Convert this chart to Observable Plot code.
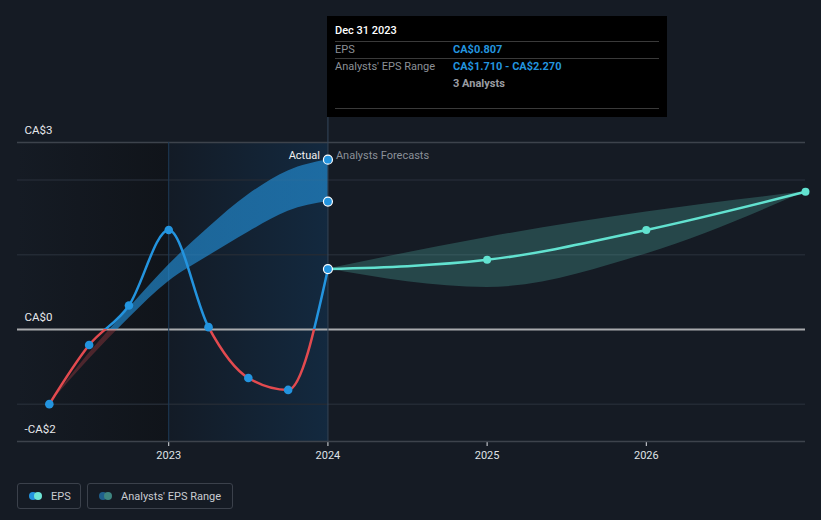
<!DOCTYPE html>
<html>
<head>
<meta charset="utf-8">
<script src="https://cdn.jsdelivr.net/npm/d3@7"></script>
<script src="https://cdn.jsdelivr.net/npm/@observablehq/plot@0.6"></script>
<style>
  html, body { margin: 0; padding: 0; background: #151b24; }
  body { font-family: Roboto, "Noto Sans", sans-serif; }
  #wrap { position: relative; width: 821px; height: 520px; overflow: hidden; }
  #tip { position: absolute; left: 327px; top: 16px; width: 340px; height: 101px; background: #000; color: #fff; font-size: 11px; }
  #tip .t { position: absolute; }
  #tip .sep { position: absolute; left: 8px; width: 324px; height: 1px; background: #3a3a3a; }
  #legend { position: absolute; left: 17px; top: 483px; display: flex; gap: 6px; }
  .lg { box-sizing: border-box; height: 26px; border: 1px solid #3b414b; border-radius: 3px; display: flex; align-items: center; padding: 0 0 0 11px; color: #c9ccd1; font-size: 11px; white-space: nowrap; }
  .sw { position: relative; width: 13px; height: 8px; margin-right: 9px; flex: none; }
  .sw i { position: absolute; top: 0; width: 8px; height: 8px; border-radius: 50%; }
</style>
</head>
<body>
<div id="wrap">
  <div id="chart"></div>
  <div id="tip">
    <div class="t" style="left:8px;top:8px;font-weight:500;">Dec 31 2023</div>
    <div class="sep" style="top:25px"></div>
    <div class="t" style="left:8px;top:27px;color:#8c9097;">EPS</div>
    <div class="t" style="left:126px;top:27px;color:#2394df;font-weight:700;">CA$0.807</div>
    <div class="sep" style="top:42px"></div>
    <div class="t" style="left:8px;top:44px;color:#8c9097;">Analysts' EPS Range</div>
    <div class="t" style="left:126px;top:44px;color:#2394df;font-weight:700;">CA$1.710 - CA$2.270</div>
    <div class="t" style="left:126px;top:61px;color:#9a9da2;font-weight:700;">3 Analysts</div>
    <div class="sep" style="top:92px"></div>
  </div>
  <div id="legend">
    <div class="lg" style="width:64px"><span class="sw"><i style="left:0;background:#2394df"></i><i style="left:5px;background:#6ee6d6"></i></span>EPS</div>
    <div class="lg" style="width:146px"><span class="sw"><i style="left:0;background:#1f5f8c"></i><i style="left:5px;background:#3e8580"></i></span>Analysts' EPS Range</div>
  </div>
</div>
<script>
// ---- data ----
const epsDates  = [2022.25, 2022.5, 2022.75, 2023.0, 2023.25, 2023.5, 2023.75, 2024.0];
const epsValues = [-1.0, -0.21, 0.32, 1.33, 0.03, -0.65, -0.81, 0.807];

const pastBandDates = [2022.25, 2022.5, 2022.75, 2023.0, 2023.25, 2023.5, 2023.75, 2024.0];
const pastBandLow   = [-1.0, -0.40, 0.15, 0.64, 0.98, 1.30, 1.58, 1.71];
const pastBandHigh  = [-1.0, -0.32, 0.28, 0.86, 1.36, 1.80, 2.12, 2.27];

const forecastDates  = [2024, 2025, 2026, 2027];
const forecastValues = [0.807, 0.93, 1.33, 1.84];
const forecastLow    = [0.807, 0.56, 1.01, 1.84];
const forecastHigh   = [0.807, 1.23, 1.57, 1.84];

const xTicks = [2023, 2024, 2025, 2026];
const yLabels = [{v: 2.5, label: "CA$3"}, {v: 0, label: "CA$0"}, {v: -1.5, label: "-CA$2"}];
const xDomain = [2022.05, 2027];
const yDomain = [-1.5, 2.5];
const pastYearStart = 2023, nowDate = 2024;
const markerTop = 2.84;

// ---- tables ----
const eps = epsDates.map((d, i) => ({x: d, y: epsValues[i]}));
const pastBand = pastBandDates.map((d, i) => ({x: d, lo: pastBandLow[i], hi: pastBandHigh[i]}));
const fc = forecastDates.map((d, i) => ({x: d, y: forecastValues[i], lo: forecastLow[i], hi: forecastHigh[i]}));
const nowPoints = [
  {x: nowDate, y: epsValues[epsValues.length - 1]},
  {x: nowDate, y: pastBandLow[pastBandLow.length - 1]},
  {x: nowDate, y: pastBandHigh[pastBandHigh.length - 1]}
];

const BLUE = "#2394df", RED = "#e34a4f", TEAL = "#62e2d0";

function defsMark(index, scales, values, dimensions) {
  const top = dimensions.marginTop, bottom = dimensions.height - dimensions.marginBottom;
  const z = (scales.y(0) - top) / (bottom - top);
  const g = d3.create("svg:g");
  const defs = g.append("defs");
  const lin = (id, stops, attrs) => {
    const lg = defs.append("linearGradient").attr("id", id);
    Object.entries(attrs).forEach(([k, v]) => lg.attr(k, v));
    stops.forEach(([o, c, op]) => lg.append("stop").attr("offset", o).attr("stop-color", c).attr("stop-opacity", op ?? 1));
  };
  const vert = {gradientUnits: "userSpaceOnUse", x1: 0, x2: 0, y1: top, y2: bottom};
  lin("epsGrad", [[0, BLUE], [z, BLUE], [z, RED], [1, RED]], vert);
  lin("bandGrad", [[0, BLUE], [z, BLUE], [z, RED, 0.45], [1, RED, 0.45]], vert);
  lin("leftShade", [[0, "#151b24"], [1, "#10141a"]], {x1: 0, x2: 1, y1: 0, y2: 0});
  lin("midShade", [[0, "#131b26"], [1, "#13293f"]], {x1: 0, x2: 1, y1: 0, y2: 0});
  return g.node();
}

const chart = Plot.plot({
  width: 821,
  height: 470,
  marginTop: 142,
  marginBottom: 29,
  marginLeft: 17,
  marginRight: 16,
  style: {background: "transparent", color: "#dfe2e6", fontFamily: "Roboto, sans-serif", fontSize: "11px", overflow: "visible"},
  x: {domain: xDomain, ticks: xTicks, tickFormat: d => String(d), tickSize: 5, tickPadding: 5, label: null},
  y: {domain: yDomain, axis: null},
  marks: [
    defsMark,
    Plot.rect([{x1: xDomain[0], x2: pastYearStart}], {x1: "x1", x2: "x2", y1: yDomain[0], y2: yDomain[1], fill: "url(#leftShade)"}),
    Plot.rect([{x1: pastYearStart, x2: nowDate}], {x1: "x1", x2: "x2", y1: yDomain[0], y2: yDomain[1], fill: "url(#midShade)"}),
    Plot.ruleY([2, 1, -1], {stroke: "#232a34", strokeWidth: 1.5}),
    Plot.ruleY([yDomain[1], yDomain[0]], {stroke: "#3d434c", strokeWidth: 1.5}),
    Plot.ruleY([0], {stroke: "#a9abae", strokeWidth: 2}),
    Plot.ruleX([pastYearStart], {y1: yDomain[0], y2: yDomain[1], stroke: "#1d3a56", strokeWidth: 1}),
    Plot.ruleX([nowDate], {y1: yDomain[0], y2: markerTop, stroke: "#34485c", strokeWidth: 1}),
    Plot.areaY(pastBand, {x: "x", y1: "lo", y2: "hi", curve: "monotone-x", fill: "url(#bandGrad)", fillOpacity: 0.62}),
    Plot.areaY(fc, {x: "x", y1: "lo", y2: "hi", curve: "monotone-x", fill: TEAL, fillOpacity: 0.22}),
    Plot.line(eps, {x: "x", y: "y", curve: "monotone-x", stroke: "url(#epsGrad)", strokeWidth: 2.5}),
    Plot.line(fc, {x: "x", y: "y", curve: "monotone-x", stroke: TEAL, strokeWidth: 2.5}),
    Plot.dot(eps.slice(0, -1), {x: "x", y: "y", r: 4.3, fill: BLUE}),
    Plot.dot(fc.slice(1), {x: "x", y: "y", r: 4, fill: TEAL}),
    Plot.dot(nowPoints, {x: "x", y: "y", r: 4.5, fill: BLUE, stroke: "#ffffff", strokeWidth: 1.2}),
    Plot.text(yLabels, {x: xDomain[0], y: "v", text: "label", textAnchor: "start", dx: 7, dy: -12, fill: "#e6e8eb", fontSize: 11.5}),
    Plot.text(["Actual"], {x: nowDate, y: yDomain[1], text: d => d, textAnchor: "end", dx: -8, dy: 13, fill: "#f0f0f0", fontSize: 11}),
    Plot.text(["Analysts Forecasts"], {x: nowDate, y: yDomain[1], text: d => d, textAnchor: "start", dx: 8, dy: 13, fill: "#8b9098", fontSize: 11})
  ]
});
document.getElementById("chart").appendChild(chart);
</script>
</body>
</html>
